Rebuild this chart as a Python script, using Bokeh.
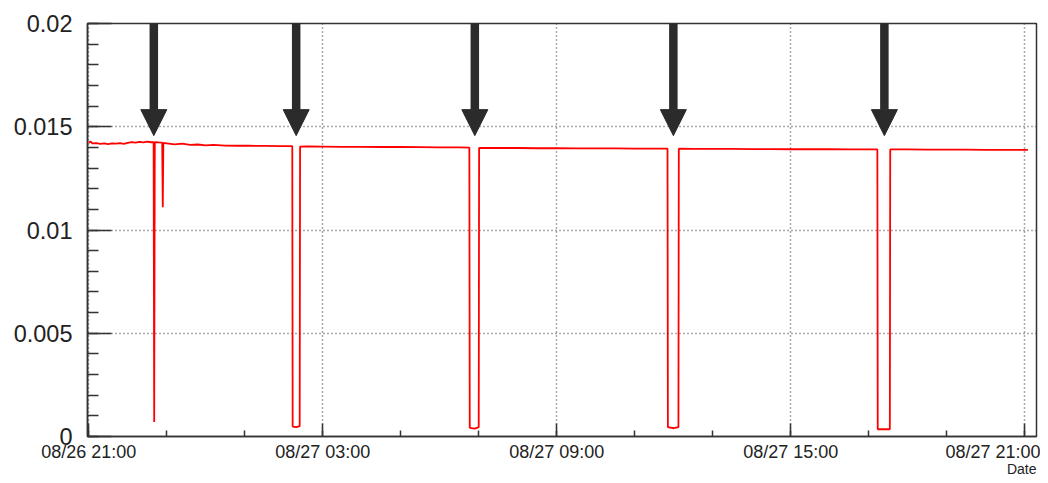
from bokeh.plotting import figure
from bokeh.models import Range1d, FixedTicker, Arrow, NormalHead, ColumnDataSource, Title
from bokeh.embed import file_html
from bokeh.resources import INLINE

# hours since 08/26 21:00 and measured value
hours = [0.00, 0.05, 0.10, 0.20, 0.30, 0.40, 0.50, 0.60, 0.70, 0.80, 0.90, 1.00,
         1.10, 1.20, 1.30, 1.40, 1.50, 1.60, 1.665, 1.68, 1.695, 1.80, 1.885, 1.90,
         1.915, 2.00, 2.20, 2.40, 2.60, 2.80, 3.00, 3.20, 3.50, 3.80, 4.10, 4.50,
         4.90, 5.22, 5.23, 5.32, 5.41, 5.42, 5.60, 6.00, 6.50, 7.00, 7.50, 8.00,
         8.50, 9.00, 9.50, 9.76, 9.77, 9.90, 10.00, 10.01, 10.50, 11.00, 11.50,
         12.00, 12.50, 13.00, 13.50, 14.00, 14.50, 14.84, 14.85, 15.00, 15.12,
         15.13, 15.50, 16.00, 16.50, 17.00, 17.50, 18.00, 18.50, 19.00, 19.50,
         20.22, 20.23, 20.54, 20.55, 21.00, 21.50, 22.00, 22.50, 23.00, 23.50, 24.08]
values = [0.01422, 0.01428, 0.01419, 0.01421, 0.01417, 0.01419, 0.01416, 0.01420,
          0.01418, 0.01421, 0.01417, 0.01422, 0.01426, 0.01423, 0.01427, 0.01424,
          0.01428, 0.01425, 0.01426, 0.00070, 0.01426, 0.01424, 0.01423, 0.01110,
          0.01422, 0.01420, 0.01415, 0.01418, 0.01412, 0.01414, 0.01410, 0.01412,
          0.01409, 0.01408, 0.01408, 0.01407, 0.01406, 0.01406, 0.00048, 0.00045,
          0.00050, 0.01404, 0.01405, 0.01404, 0.01403, 0.01403, 0.01402, 0.01402,
          0.01401, 0.01400, 0.01400, 0.01399, 0.00042, 0.00038, 0.00045, 0.01398,
          0.01397, 0.01397, 0.01396, 0.01396, 0.01395, 0.01395, 0.01395, 0.01394,
          0.01394, 0.01394, 0.00045, 0.00040, 0.00045, 0.01394, 0.01393, 0.01393,
          0.01393, 0.01392, 0.01392, 0.01391, 0.01391, 0.01391, 0.01390, 0.01390,
          0.00035, 0.00035, 0.01390, 0.01390, 0.01389, 0.01389, 0.01389, 0.01388,
          0.01388, 0.01388]

arrow_hours = [1.67, 5.32, 9.90, 14.99, 20.40]
arrow_tip = 0.01457
arrow_top = 0.0215

xtick_hours = [0, 6, 12, 18, 24]
xtick_labels = ["08/26 21:00", "08/27 03:00", "08/27 09:00", "08/27 15:00", "08/27 21:00"]
xminor_hours = [0, 2, 4, 6, 8, 10, 12, 14, 16, 18, 20, 22, 24]
ytick_values = [0, 0.005, 0.01, 0.015, 0.02]
ytick_labels = ["0", "0.005", "0.01", "0.015", "0.02"]
yminor_values = [i / 1000 for i in range(21)]
x_label = "Date"

FONT = "Liberation Sans"
AXC = "#333333"

p = figure(width=1040, height=475, output_backend="svg", toolbar_location=None,
           x_range=Range1d(-0.03, 24.30), y_range=Range1d(0, 0.02),
           min_border_left=87, min_border_right=4, min_border_top=23, min_border_bottom=0)
p.background_fill_color = "white"
p.border_fill_color = "white"
p.outline_line_color = AXC
p.outline_line_width = 1.5

p.line(hours, values, line_color="#ff0000", line_width=1.8)

src = ColumnDataSource(dict(x=arrow_hours, y0=[arrow_top] * len(arrow_hours),
                            y1=[arrow_tip] * len(arrow_hours)))
p.add_layout(Arrow(end=NormalHead(size=26, fill_color="#2b2b2b", line_color="#2b2b2b"),
                   x_start="x", y_start="y0", x_end="x", y_end="y1", source=src,
                   line_color="#2b2b2b", line_width=8.5))

xa = p.xaxis[0]
xa.ticker = FixedTicker(ticks=xtick_hours, minor_ticks=xminor_hours)
xa.major_label_overrides = {h: t for h, t in zip(xtick_hours, xtick_labels)}
xa.major_tick_in = 13
xa.major_tick_out = 0
xa.minor_tick_in = 6
xa.minor_tick_out = 0
xa.major_label_standoff = 5
xa.major_label_text_font = FONT
xa.major_label_text_font_size = "18px"
xa.major_label_text_color = "#222222"

p.add_layout(Title(text=x_label, align="right", standoff=-7, text_font=FONT,
                   text_font_size="14px", text_font_style="normal",
                   vertical_align="top", text_color="#222222"), "below")

ya = p.yaxis[0]
ya.ticker = FixedTicker(ticks=ytick_values, minor_ticks=yminor_values)
ya.major_label_overrides = {v: t for v, t in zip(ytick_values, ytick_labels)}
ya.major_tick_in = 24
ya.major_tick_out = 0
ya.minor_tick_in = 11
ya.minor_tick_out = 0
ya.major_label_standoff = 15
ya.major_label_text_font = FONT
ya.major_label_text_font_size = "23.5px"
ya.major_label_text_color = "#222222"

for ax in (xa, ya):
    ax.axis_line_color = AXC
    ax.axis_line_width = 1.5
    ax.major_tick_line_color = AXC
    ax.major_tick_line_width = 1.5
    ax.minor_tick_line_color = AXC
    ax.minor_tick_line_width = 1.5

for g in (p.xgrid[0], p.ygrid[0]):
    g.grid_line_color = "#555555"
    g.grid_line_dash = "1 3"
    g.grid_line_width = 1.5
    g.grid_line_alpha = 1.0

open("out.html", "w").write(file_html(p, INLINE))
